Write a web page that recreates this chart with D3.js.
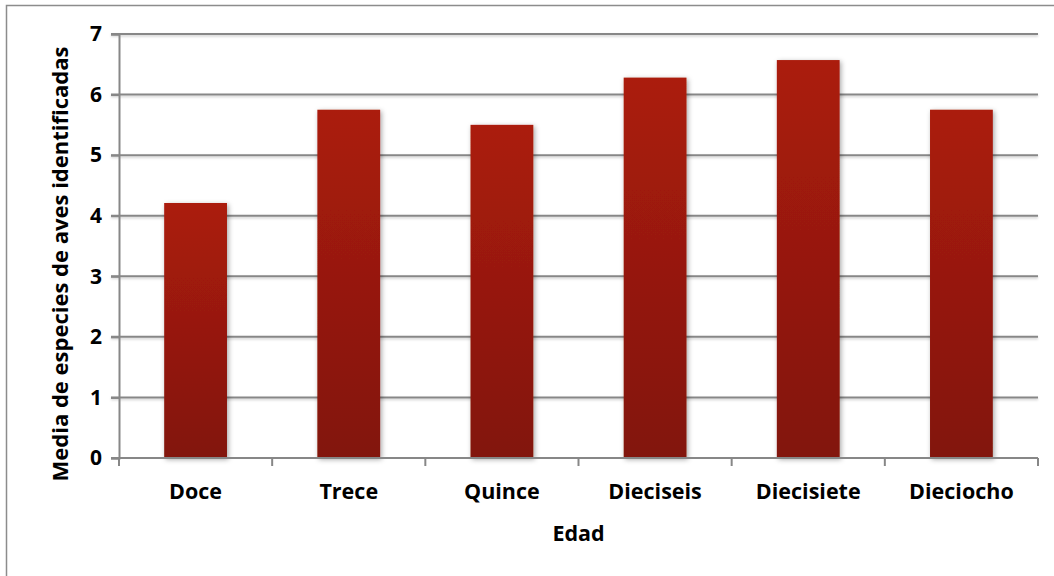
<!DOCTYPE html>
<html>
<head>
<meta charset="utf-8">
<script src="https://cdn.jsdelivr.net/npm/d3@7/dist/d3.min.js"></script>
<style>
  html, body { margin: 0; padding: 0; background: #fff; }
  svg { display: block; }
  text { font-family: "Open Sans", "Noto Sans", sans-serif; font-weight: bold; fill: #000; }
</style>
</head>
<body>
<svg id="chart" width="1054" height="576"></svg>
<script>
// Mean number of bird species identified, by age
const categories = ["Doce", "Trece", "Quince", "Dieciseis", "Diecisiete", "Dieciocho"];
const meanSpecies = [4.21, 5.75, 5.50, 6.28, 6.57, 5.75];
const yTicks = [0, 1, 2, 3, 4, 5, 6, 7];
const xTitle = "Edad";
const yTitle = "Media de especies de aves identificadas";

const svg = d3.select("#chart");
const W = 1054, H = 576;
const plot = { left: 119, right: 1038, top: 34, bottom: 458 };

// outer chart frame
svg.append("rect")
  .attr("x", 6.5).attr("y", 5.5)
  .attr("width", W + 10).attr("height", H + 10)
  .attr("fill", "#fff").attr("stroke", "#8c8c8c").attr("stroke-width", 1.5);

const defs = svg.append("defs");
const grad = defs.append("linearGradient")
  .attr("id", "barFill").attr("x1", 0).attr("y1", 0).attr("x2", 0).attr("y2", 1);
grad.append("stop").attr("offset", "0%").attr("stop-color", "#ab1c0b");
grad.append("stop").attr("offset", "100%").attr("stop-color", "#821508");

const shadow = defs.append("filter").attr("id", "barShadow")
  .attr("x", "-20%").attr("y", "-20%").attr("width", "140%").attr("height", "140%");
shadow.append("feDropShadow")
  .attr("dx", 1.5).attr("dy", 1.5).attr("stdDeviation", 2.5)
  .attr("flood-color", "#000").attr("flood-opacity", 0.35);

const lineShadow = defs.append("filter").attr("id", "lineShadow")
  .attr("x", "-5%").attr("y", "-200%").attr("width", "110%").attr("height", "500%");
lineShadow.append("feDropShadow")
  .attr("dx", 0).attr("dy", 1.5).attr("stdDeviation", 1)
  .attr("flood-color", "#000").attr("flood-opacity", 0.2);

const x = d3.scaleBand()
  .domain(categories)
  .range([plot.left, plot.right])
  .paddingInner(0.59).paddingOuter(0.295);

const xOuter = d3.scaleBand()
  .domain(categories)
  .range([plot.left, plot.right])
  .padding(0);

const y = d3.scaleLinear()
  .domain([0, 7])
  .range([plot.bottom, plot.top]);

// horizontal gridlines
svg.append("g")
  .attr("filter", "url(#lineShadow)")
  .selectAll("line")
  .data(yTicks.filter(d => d > 0))
  .join("line")
  .attr("x1", plot.left - 8).attr("x2", plot.right)
  .attr("y1", d => y(d)).attr("y2", d => y(d))
  .attr("stroke", "#878787").attr("stroke-width", 2);

// y axis
const yAxis = svg.append("g")
  .attr("transform", `translate(${plot.left},0)`)
  .call(d3.axisLeft(y).tickValues(yTicks).tickSize(8).tickPadding(9).tickFormat(d3.format("d")));
yAxis.select(".domain").attr("stroke", "#878787").attr("stroke-width", 2);
yAxis.selectAll(".tick line").attr("stroke", "#878787").attr("stroke-width", 2);
yAxis.selectAll(".tick text")
  .attr("font-size", 21)
  .attr("font-family", "'Open Sans', sans-serif")
  .attr("font-weight", "bold")
  .attr("fill", "#000");

// bars
svg.append("g")
  .selectAll("rect")
  .data(meanSpecies)
  .join("rect")
  .attr("x", (d, i) => x(categories[i]))
  .attr("y", d => y(d))
  .attr("width", x.bandwidth())
  .attr("height", d => y(0) - y(d))
  .attr("fill", "url(#barFill)")
  .attr("filter", "url(#barShadow)");

// x axis: baseline with ticks at the category boundaries
const xAxisG = svg.append("g").attr("transform", `translate(0,${plot.bottom})`);
xAxisG.append("line")
  .attr("x1", plot.left - 8).attr("x2", plot.right)
  .attr("y1", 0).attr("y2", 0)
  .attr("stroke", "#878787").attr("stroke-width", 2);
const boundaries = categories.map(c => xOuter(c)).concat([plot.right]);
xAxisG.selectAll("line.tick")
  .data(boundaries)
  .join("line")
  .attr("class", "tick")
  .attr("x1", d => d).attr("x2", d => d)
  .attr("y1", 0).attr("y2", 8)
  .attr("stroke", "#878787").attr("stroke-width", 2);
xAxisG.selectAll("text")
  .data(categories)
  .join("text")
  .attr("x", d => xOuter(d) + xOuter.bandwidth() / 2)
  .attr("y", 41)
  .attr("text-anchor", "middle")
  .attr("font-size", 21.5)
  .text(d => d);

// axis titles
svg.append("text")
  .attr("x", (plot.left + plot.right) / 2)
  .attr("y", 541)
  .attr("text-anchor", "middle")
  .attr("font-size", 21.5)
  .text(xTitle);

svg.append("text")
  .attr("transform", `translate(68,${(plot.top + plot.bottom) / 2 + 18}) rotate(-90)`)
  .attr("text-anchor", "middle")
  .attr("font-size", 22)
  .text(yTitle);
</script>
</body>
</html>
